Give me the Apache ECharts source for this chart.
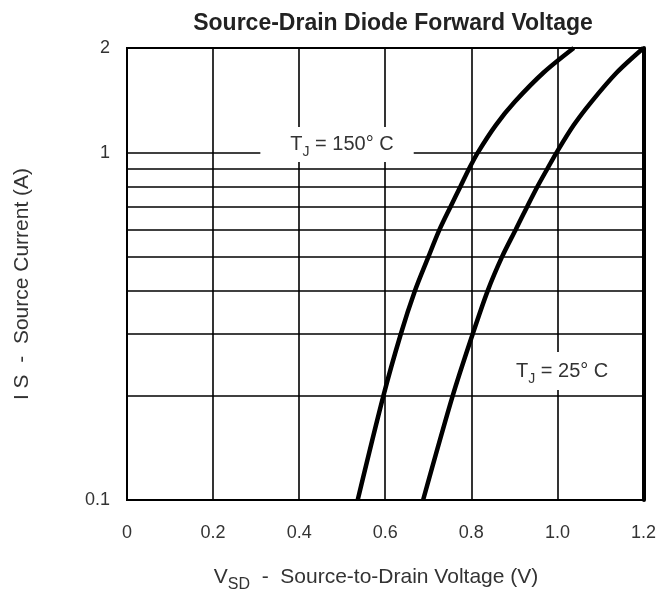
<!DOCTYPE html>
<html>
<head>
<meta charset="utf-8">
<title>Source-Drain Diode Forward Voltage</title>
<script src="https://cdn.jsdelivr.net/npm/echarts@6/dist/echarts.min.js"></script>
<style>
  html, body { margin: 0; padding: 0; background: #fff; }
  #chart { width: 659px; height: 591px; }
</style>
</head>
<body>
<div id="chart"></div>
<script>
// 电流点 (A)，两条曲线共用
var currents = [0.1, 0.2, 0.3, 0.4, 0.5, 0.6, 0.7, 0.8, 0.9, 1.0, 1.2, 1.4, 1.7, 2.0];
// TJ = 150°C 曲线电压 (V)
var vsd150 = [0.536, 0.596, 0.636, 0.669, 0.700, 0.726, 0.752, 0.775, 0.795, 0.815, 0.857, 0.901, 0.968, 1.038];
// TJ = 25°C 曲线电压 (V)
var vsd25 = [0.688, 0.757, 0.803, 0.838, 0.871, 0.903, 0.930, 0.954, 0.977, 0.998, 1.038, 1.079, 1.138, 1.200];
// 对数网格线
var gridCurrents = [0.2, 0.3, 0.4, 0.5, 0.6, 0.7, 0.8, 0.9, 1];

var FONT = 'Liberation Sans, Arial, sans-serif';

function pairs(xs, ys) {
  return xs.map(function (x, i) { return [x, ys[i]] })
}

var chart = echarts.init(document.getElementById('chart'))

var subRich = {
  t: { fontSize: 20, color: '#333', fontFamily: FONT },
  s: { fontSize: 14, color: '#333', fontFamily: FONT, verticalAlign: 'bottom', lineHeight: 30 }
}

chart.setOption({
  animation: false,
  backgroundColor: '#fff',
  grid: {
    left: 127,
    right: 12,
    top: 48,
    bottom: 91,
    show: true,
    borderColor: '#000',
    borderWidth: 2
  },
  graphic: [
    {
      type: 'text',
      x: 393,
      y: 24,
      style: {
        text: 'Source-Drain Diode Forward Voltage',
        fontSize: 23,
        fontWeight: 'bold',
        fontFamily: FONT,
        fill: '#222',
        align: 'center',
        verticalAlign: 'middle'
      }
    },
    {
      type: 'text',
      x: 376,
      y: 577,
      style: {
        text: '{n|V}{s|SD}{n|  -  Source-to-Drain Voltage (V)}',
        rich: {
          n: { fontSize: 21, fill: '#333', fontFamily: FONT },
          s: { fontSize: 16, fill: '#333', fontFamily: FONT, verticalAlign: 'bottom', lineHeight: 32 }
        },
        align: 'center',
        verticalAlign: 'middle'
      }
    },
    {
      type: 'text',
      x: 22,
      y: 284,
      rotation: Math.PI / 2,
      style: {
        text: 'I S  -  Source Current (A)',
        fontSize: 21,
        fontFamily: FONT,
        fill: '#333',
        align: 'center',
        verticalAlign: 'middle'
      }
    }
  ],
  xAxis: {
    type: 'value',
    min: 0,
    max: 1.2,
    interval: 0.2,
    axisLine: { lineStyle: { color: '#000', width: 2 } },
    axisTick: { show: false },
    axisLabel: {
      fontSize: 18,
      color: '#333',
      fontFamily: FONT,
      margin: 24,
      formatter: function (v) { return v === 0 ? '0' : v.toFixed(1) }
    },
    splitLine: { lineStyle: { color: '#000', width: 1.6 } }
  },
  yAxis: [
    {
      type: 'log',
      logBase: 10,
      min: 0.1,
      max: 2,
      axisLine: { show: true, lineStyle: { color: '#000', width: 2 } },
      axisTick: { show: false },
      axisLabel: { fontSize: 18, color: '#333', fontFamily: FONT, margin: 17 },
      splitLine: { show: false }
    },
    {
      type: 'log',
      logBase: 10,
      min: 0.1,
      max: 2,
      position: 'right',
      axisLine: { show: true, lineStyle: { color: '#000', width: 4 } },
      axisTick: { show: false },
      axisLabel: { show: false },
      splitLine: { show: false }
    }
  ],
  series: [
    {
      name: 'grid',
      type: 'line',
      data: [],
      silent: true,
      markLine: {
        z: 1,
        silent: true,
        symbol: 'none',
        label: { show: false },
        lineStyle: { color: '#000', width: 1.6, type: 'solid' },
        data: gridCurrents.map(function (v) { return { yAxis: v } })
      }
    },
    {
      name: 'labels',
      type: 'scatter',
      z: 3,
      silent: true,
      symbolSize: 0,
      itemStyle: { color: '#fff', opacity: 1 },
      label: {
        show: true,
        position: 'inside',
        backgroundColor: '#fff',
        opacity: 1,
        rich: subRich
      },
      data: [
        {
          value: [0.488, 1.055],
          label: { formatter: '{t|T}{s|J}{t| = 150° C}', padding: [2, 20, 3, 30] }
        },
        {
          value: [1.011, 0.235],
          label: { formatter: '{t|T}{s|J}{t| = 25° C}', padding: [4, 12, 4, 12] }
        }
      ]
    },
    {
      name: 'TJ = 150°C',
      type: 'line',
      z: 4,
      smooth: 0.3,
      symbol: 'none',
      lineStyle: { color: '#000', width: 4.5 },
      data: pairs(vsd150, currents)
    },
    {
      name: 'TJ = 25°C',
      type: 'line',
      z: 4,
      smooth: 0.3,
      symbol: 'none',
      lineStyle: { color: '#000', width: 4.5 },
      data: pairs(vsd25, currents)
    }
  ]
})
</script>
</body>
</html>
